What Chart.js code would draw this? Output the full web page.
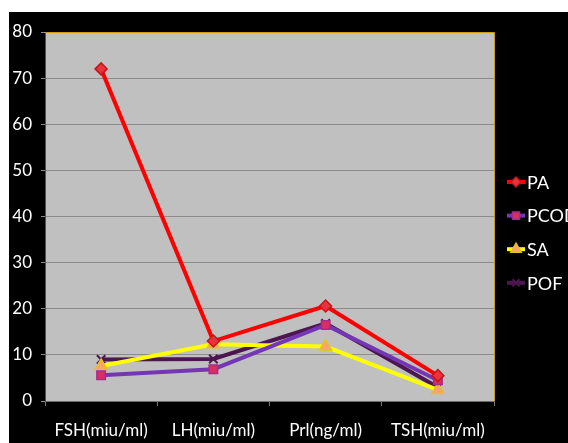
<!DOCTYPE html>
<html>
<head>
<meta charset="utf-8">
<script src="https://cdn.jsdelivr.net/npm/chart.js@4/dist/chart.umd.min.js"></script>
<style>
  html, body { margin: 0; padding: 0; background: #ffffff; }
  #wrap { width: 568px; height: 443px; }
</style>
</head>
<body>
<div id="wrap"><canvas id="c" width="568" height="443"></canvas></div>
<script>
// Hormone levels by condition
const categories = ['FSH(miu/ml)', 'LH(miu/ml)', 'Prl(ng/ml)', 'TSH(miu/ml)'];
const seriesNames = ['PA', 'PCOD', 'SA', 'POF'];
const paValues   = [72.0, 13.0, 20.6, 5.5];
const pcodValues = [5.6, 6.9, 16.5, 4.5];
const saValues   = [7.6, 12.3, 11.8, 2.4];
const pofValues  = [9.0, 9.1, 16.8, 3.0];
const yTicks = [0, 10, 20, 30, 40, 50, 60, 70, 80];

const FONT = 'Lato, "Open Sans", sans-serif';

const styles = [
  { line: '#ff0000', fill: '#e8323c', border: '#c8141e', pointStyle: 'rectRot', radius: 6 },
  { line: '#7436b4', fill: '#d8305e', border: '#a82a8c', pointStyle: 'rect', radius: 6 },
  { line: '#ffff00', fill: '#f8a46c', border: '#e8c020', pointStyle: 'triangle', radius: 7 },
  { line: '#4c1650', fill: '#4c1650', border: '#4c1650', pointStyle: 'crossRot', radius: 6 }
];
const allValues = [paValues, pcodValues, saValues, pofValues];

const datasets = seriesNames.map((name, i) => ({
  label: name,
  data: allValues[i],
  borderColor: styles[i].line,
  backgroundColor: styles[i].fill,
  borderWidth: 4,
  pointStyle: styles[i].pointStyle,
  pointRadius: styles[i].radius,
  pointHoverRadius: styles[i].radius,
  pointBackgroundColor: styles[i].fill,
  pointBorderColor: styles[i].border,
  pointBorderWidth: i === 3 ? 2 : 1.5,
  tension: 0
}));

// Black panel behind the chart and grey plot area
const backdrop = {
  id: 'backdrop',
  beforeDraw(chart) {
    const { ctx, chartArea: a } = chart;
    ctx.save();
    ctx.fillStyle = '#ffffff';
    ctx.fillRect(0, 0, chart.width, chart.height);
    ctx.fillStyle = '#000000';
    ctx.fillRect(9, 12, chart.width - 9, chart.height - 12);
    ctx.fillStyle = '#c0c0c0';
    ctx.fillRect(a.left, a.top, a.right - a.left, a.bottom - a.top);
    ctx.restore();
  },
  afterDatasetsDraw(chart) {
    const { ctx, chartArea: a } = chart;
    ctx.save();
    ctx.strokeStyle = '#c89a10';
    ctx.lineWidth = 1;
    ctx.beginPath();
    ctx.moveTo(a.left, a.top + 0.5);
    ctx.lineTo(a.right + 0.5, a.top + 0.5);
    ctx.lineTo(a.right + 0.5, a.bottom);
    ctx.stroke();
    ctx.restore();
  }
};

// Legend: line segment with the series marker, then the name
const sideLegend = {
  id: 'sideLegend',
  afterDraw(chart) {
    const { ctx } = chart;
    const x0 = 507, x1 = 525, yStart = 182, step = 33.6;
    ctx.save();
    chart.data.datasets.forEach((ds, i) => {
      const y = yStart + i * step;
      ctx.strokeStyle = ds.borderColor;
      ctx.lineWidth = 4;
      ctx.beginPath();
      ctx.moveTo(x0, y);
      ctx.lineTo(x1, y);
      ctx.stroke();
      ctx.fillStyle = ds.pointBackgroundColor;
      ctx.strokeStyle = ds.pointBorderColor;
      ctx.lineWidth = ds.pointBorderWidth;
      Chart.helpers.drawPoint(ctx, {
        pointStyle: ds.pointStyle,
        radius: ds.pointRadius - 1,
        rotation: 0,
        borderWidth: ds.pointBorderWidth
      }, (x0 + x1) / 2, y);
      ctx.fillStyle = '#ffffff';
      ctx.font = '18px ' + FONT;
      ctx.textBaseline = 'middle';
      ctx.textAlign = 'left';
      ctx.fillText(ds.label, x1 + 2, y + 1);
    });
    ctx.restore();
  }
};

new Chart(document.getElementById('c'), {
  type: 'line',
  data: { labels: categories, datasets },
  plugins: [backdrop, sideLegend],
  options: {
    responsive: false,
    animation: false,
    events: [],
    layout: { padding: { left: 0, top: 32, right: 74, bottom: 0 } },
    plugins: { legend: { display: false }, tooltip: { enabled: false } },
    scales: {
      x: {
        type: 'category',
        offset: true,
        afterFit(scale) { scale.height = 42; },
        grid: {
          drawOnChartArea: false,
          drawTicks: true,
          tickLength: 5,
          offset: true,
          color: '#7a7a7a'
        },
        border: { display: true, color: '#6a6a6a', width: 1 },
        ticks: {
          color: '#ffffff',
          font: { family: FONT, size: 17 },
          padding: 14,
          maxRotation: 0,
          autoSkip: false
        }
      },
      y: {
        min: 0,
        max: 80,
        afterFit(scale) { scale.width = 45; },
        afterBuildTicks(scale) { scale.ticks = yTicks.map(v => ({ value: v })); },
        grid: {
          color: '#8c8c8c',
          lineWidth: 1,
          tickLength: 4,
          drawTicks: true
        },
        border: { display: true, color: '#505050', width: 1 },
        ticks: {
          color: '#ffffff',
          font: { family: FONT, size: 17 },
          padding: 9
        }
      }
    }
  }
});
</script>
</body>
</html>
